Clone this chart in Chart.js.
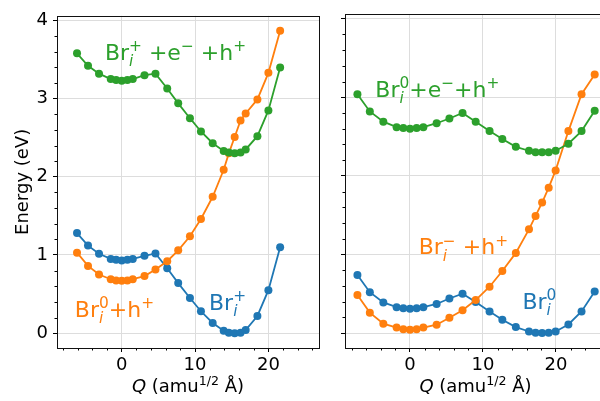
<!DOCTYPE html>
<html>
<head>
<meta charset="utf-8">
<script src="https://cdn.jsdelivr.net/npm/chart.js@4.4.0/dist/chart.umd.min.js"></script>
<style>
  html, body { margin: 0; padding: 0; width: 600px; height: 401px; overflow: hidden; background: #fff; }
  canvas { position: absolute; top: 0; }
  #left { left: 0; }
  #right { left: 330px; }
</style>
</head>
<body>
<canvas id="left" width="330" height="401"></canvas>
<canvas id="right" width="290" height="401"></canvas>
<script>
// ---- data ----
const qLeft = [-6.1, -4.6, -3.1, -1.5, -0.77, 0, 0.77, 1.5, 3.1, 4.6, 6.2, 7.7, 9.3, 10.8, 12.4, 13.9, 14.6, 15.4, 16.2, 16.9, 18.5, 20.0, 21.6];
const leftBlue   = [1.28, 1.12, 1.015, 0.95, 0.94, 0.93, 0.94, 0.95, 0.99, 1.02, 0.83, 0.64, 0.45, 0.28, 0.13, 0.03, 0.005, 0, 0.005, 0.04, 0.22, 0.55, 1.10];
const leftOrange = [1.03, 0.86, 0.75, 0.69, 0.675, 0.67, 0.675, 0.69, 0.73, 0.815, 0.92, 1.06, 1.24, 1.46, 1.745, 2.09, 2.30, 2.51, 2.72, 2.81, 2.99, 3.33, 3.87];
const leftGreen  = [3.58, 3.42, 3.32, 3.25, 3.24, 3.23, 3.24, 3.25, 3.30, 3.32, 3.13, 2.94, 2.75, 2.58, 2.43, 2.33, 2.31, 2.30, 2.31, 2.35, 2.52, 2.85, 3.40];

const qRight = [-7.2, -5.5, -3.65, -1.83, -0.91, 0, 0.91, 1.83, 3.65, 5.4, 7.2, 9.0, 10.9, 12.65, 14.5, 16.3, 17.2, 18.1, 19.0, 19.95, 21.7, 23.5, 25.3];
const rightBlue   = [0.74, 0.52, 0.39, 0.33, 0.315, 0.31, 0.315, 0.33, 0.37, 0.44, 0.50, 0.395, 0.275, 0.17, 0.076, 0.02, 0.004, 0, 0.004, 0.02, 0.11, 0.275, 0.53];
const rightOrange = [0.484, 0.26, 0.12, 0.07, 0.047, 0.043, 0.047, 0.07, 0.106, 0.195, 0.29, 0.42, 0.59, 0.79, 1.02, 1.32, 1.49, 1.66, 1.85, 2.07, 2.57, 3.04, 3.29];
const rightGreen  = [3.04, 2.82, 2.69, 2.62, 2.61, 2.60, 2.61, 2.62, 2.67, 2.73, 2.80, 2.69, 2.57, 2.47, 2.37, 2.32, 2.30, 2.30, 2.30, 2.32, 2.41, 2.57, 2.83];

const xTicks = [0, 10, 20];
const yTicks = [0, 1, 2, 3, 4];

const FONT = '"DejaVu Sans", sans-serif';
const blue = '#1f77b4', orange = '#ff7f0e', green = '#2ca02c';

// text pieces: n = normal, it = italic, sub = italic subscript, sup = superscript
const xTitle = [['Q', 'it'], [' (amu', 'n'], ['1/2', 'sup'], [' Å)', 'n']];

const notesLeft = [
  { parts: [['Br', 'n'], ['i', 'sub'], ['+', 'sup'], [' +e', 'n'], ['−', 'sup'], [' +h', 'n'], ['+', 'sup']], q: -2.3, e: 3.5, color: green },
  { parts: [['Br', 'n'], ['i', 'sub'], ['0', 'sup'], ['+h', 'n'], ['+', 'sup']], q: -6.4, e: 0.21, color: orange },
  { parts: [['Br', 'n'], ['i', 'sub'], ['+', 'sup']], q: 11.9, e: 0.3, color: blue }
];
const notesRight = [
  { parts: [['Br', 'n'], ['i', 'sub'], ['0', 'sup'], ['+e', 'n'], ['−', 'sup'], ['+h', 'n'], ['+', 'sup']], q: -4.75, e: 3.01, color: green },
  { parts: [['Br', 'n'], ['i', 'sub'], ['−', 'sup'], [' +h', 'n'], ['+', 'sup']], q: 1.2, e: 1.0, color: orange },
  { parts: [['Br', 'n'], ['i', 'sub'], ['0', 'sup']], q: 15.4, e: 0.31, color: blue }
];

function layoutRich(ctx, parts, size) {
  let x = 0, subStart = 0;
  const items = [];
  parts.forEach(([t, k], i) => {
    let font, dy = 0;
    if (k === 'n') font = size + 'px ' + FONT;
    else if (k === 'it') font = 'italic ' + size + 'px ' + FONT;
    else {
      const s = size * 0.7;
      font = (k === 'sub' ? 'italic ' : '') + s + 'px ' + FONT;
      dy = k === 'sub' ? size * 0.28 : -size * 0.38;
    }
    ctx.font = font;
    const w = ctx.measureText(t).width;
    const stacked = k === 'sup' && i > 0 && parts[i - 1][1] === 'sub';
    const start = stacked ? subStart : x;
    items.push({ t, font, dx: start, dy });
    if (k === 'sub') { subStart = x; x += w; }
    else if (stacked) x = Math.max(x, start + w);
    else x += w;
  });
  return { items, width: x };
}

function drawRich(ctx, parts, x, y, size, color, center) {
  const lay = layoutRich(ctx, parts, size);
  const x0 = center ? x - lay.width / 2 : x;
  ctx.fillStyle = color;
  ctx.textBaseline = 'alphabetic';
  ctx.textAlign = 'left';
  lay.items.forEach(it => {
    ctx.font = it.font;
    ctx.fillText(it.t, x0 + it.dx, y + it.dy);
  });
}

const deco = {
  id: 'deco',
  afterDraw(chart, args, opts) {
    const { ctx, chartArea: a, scales: { x, y } } = chart;
    ctx.save();
    // minor ticks
    ctx.strokeStyle = '#000';
    ctx.lineWidth = 1;
    ctx.beginPath();
    for (let v = -8; v <= 26; v += 2) {
      if (v % 10 === 0) continue;
      const px = Math.round(x.getPixelForValue(v)) + 0.5;
      if (px < a.left || px > a.right) continue;
      ctx.moveTo(px, a.bottom); ctx.lineTo(px, a.bottom + 2.5);
    }
    for (let i = 1; i < 20; i++) {
      if (i % 5 === 0) continue;
      const py = Math.round(y.getPixelForValue(i * 0.2)) + 0.5;
      ctx.moveTo(a.left, py); ctx.lineTo(a.left - 2.5, py);
    }
    ctx.stroke();
    // frame
    ctx.strokeStyle = '#111';
    ctx.strokeRect(Math.round(a.left) + 0.5, Math.round(a.top) + 0.5, Math.round(a.right - a.left), Math.round(a.bottom - a.top));
    // notes
    opts.notes.forEach(n => {
      drawRich(ctx, n.parts, x.getPixelForValue(n.q), y.getPixelForValue(n.e), 22, n.color, false);
    });
    // axis titles
    drawRich(ctx, xTitle, (a.left + a.right) / 2, 392, 18, '#000', true);
    if (opts.yTitle) {
      ctx.translate(23, (a.top + a.bottom) / 2);
      ctx.rotate(-Math.PI / 2);
      ctx.font = '18px ' + FONT;
      ctx.fillStyle = '#000';
      ctx.textAlign = 'center';
      ctx.textBaseline = 'middle';
      ctx.fillText('Energy (eV)', 0, 0);
    }
    ctx.restore();
  }
};

function makeChart(id, q, series, o) {
  const datasets = series.map(s => ({
    data: q.map((v, i) => ({ x: v, y: s.values[i] })),
    borderColor: s.color,
    backgroundColor: s.color,
    borderWidth: 1.8,
    pointRadius: 4,
    pointHoverRadius: 4,
    pointBorderWidth: 0,
    tension: 0,
    fill: false
  }));
  const grid = { color: '#dddddd', lineWidth: 1, drawTicks: true, tickLength: 4, tickColor: '#000', tickWidth: 1 };
  return new Chart(document.getElementById(id), {
    type: 'line',
    data: { datasets },
    options: {
      responsive: false,
      animation: false,
      events: [],
      layout: { padding: { top: 14, right: o.padRight, left: 0, bottom: 0 } },
      plugins: {
        legend: { display: false },
        tooltip: { enabled: false },
        deco: { notes: o.notes, yTitle: o.yTitle }
      },
      scales: {
        x: {
          type: 'linear', min: o.xMin, max: o.xMax,
          afterBuildTicks: s => { s.ticks = xTicks.map(v => ({ value: v })); },
          afterFit: s => { s.height = 53; },
          grid: grid,
          border: { display: false },
          ticks: { font: { family: FONT, size: 18 }, color: '#000', padding: 3, maxRotation: 0, autoSkip: false }
        },
        y: {
          type: 'linear', min: -0.19, max: 4.06,
          afterBuildTicks: s => { s.ticks = yTicks.map(v => ({ value: v })); },
          afterFit: s => { s.width = o.yWidth; },
          grid: grid,
          border: { display: false },
          ticks: { display: o.yLabels, font: { family: FONT, size: 18 }, color: '#000', padding: 5, autoSkip: false }
        }
      }
    },
    plugins: [deco]
  });
}

makeChart('left', qLeft, [
  { values: leftGreen, color: green },
  { values: leftOrange, color: orange },
  { values: leftBlue, color: blue }
], { xMin: -8.83, xMax: 26.9, padRight: 11, yWidth: 57, yLabels: true, yTitle: true, notes: notesLeft });

makeChart('right', qRight, [
  { values: rightGreen, color: green },
  { values: rightOrange, color: orange },
  { values: rightBlue, color: blue }
], { xMin: -8.9, xMax: 26.85, padRight: 14, yWidth: 15, yLabels: false, yTitle: false, notes: notesRight });
</script>
</body>
</html>
